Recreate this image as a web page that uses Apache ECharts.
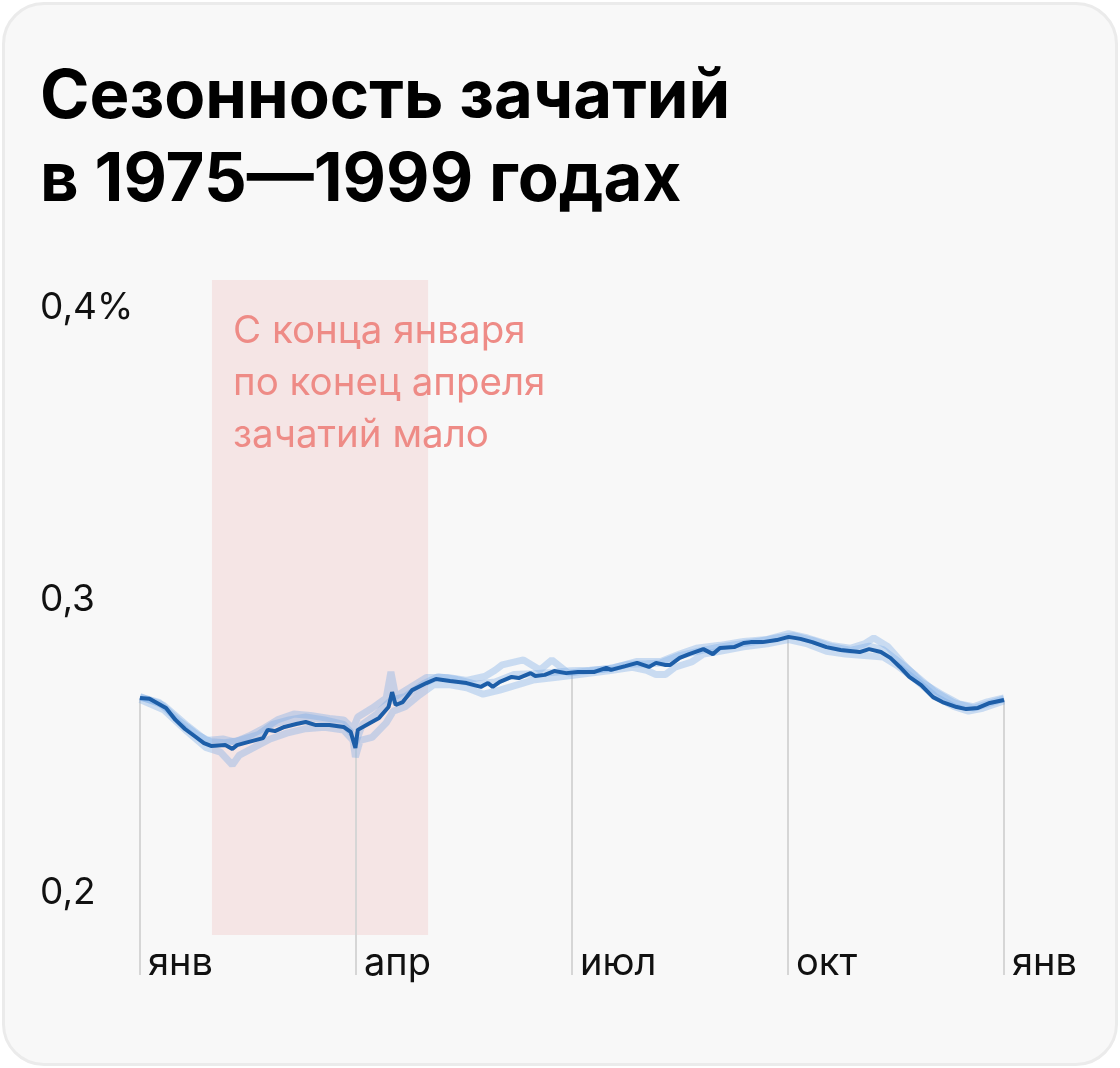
<!DOCTYPE html>
<html>
<head>
<meta charset="utf-8">
<script src="https://cdn.jsdelivr.net/npm/echarts@6/dist/echarts.min.js"></script>
<style>
html,body{margin:0;padding:0;background:#ffffff;}
#card{position:absolute;left:2px;top:2px;width:1110px;height:1058px;border:3px solid #ebebeb;border-radius:42px;background:#f8f8f8;}
#chart{position:absolute;left:0;top:0;width:1120px;height:1068px;}
</style>
</head>
<body>
<div id="card"></div>
<div id="chart"></div>
<script>
// Day of year (0..365) and share of conceptions per day, %
const mainDays = [0,4,11,15,19,23,27,30,36,39,41,46,52,54,57,61,66,70,74,80,86,89,91,92,97,101,105,106.5,108,111,115,121,125,131,138,144,147,149,152,157,160,165,167,171,175,180,185,192,197,199,205,210,215,218,222,224,228,232,238,242,245,251,255,258,263,269,274,279,284,290,296,304,308,313,317,321,325,330,335,339,345,349,354,359,365];
const mainVals = [0.2665,0.2662,0.2631,0.2590,0.2559,0.2535,0.2511,0.2501,0.2504,0.2491,0.2504,0.2515,0.2528,0.2556,0.2552,0.2566,0.2576,0.2583,0.2573,0.2573,0.2566,0.2549,0.2494,0.2556,0.2579,0.2597,0.2634,0.2685,0.2641,0.2651,0.2692,0.2716,0.2730,0.2723,0.2716,0.2703,0.2716,0.2703,0.2720,0.2737,0.2733,0.2750,0.2740,0.2744,0.2757,0.2750,0.2754,0.2754,0.2768,0.2761,0.2774,0.2785,0.2771,0.2785,0.2778,0.2778,0.2802,0.2815,0.2832,0.2815,0.2836,0.2839,0.2853,0.2856,0.2856,0.2863,0.2874,0.2867,0.2856,0.2839,0.2829,0.2822,0.2832,0.2822,0.2802,0.2771,0.2737,0.2709,0.2668,0.2651,0.2634,0.2627,0.2631,0.2648,0.2658];

const altADays = [0,10,20,28,35,40,46,52,58,65,72,80,86,90,92,98,104,106,108,114,121,130,138,146,150,153,162,169,174,181,190,200,210,220,228,235,245,255,265,274,282,292,300,306,310,316,322,330,338,346,352,358,365];
const altAVals = [0.2670,0.2640,0.2570,0.2520,0.2525,0.2515,0.2535,0.2560,0.2590,0.2610,0.2605,0.2595,0.2590,0.2560,0.2600,0.2630,0.2665,0.2754,0.2670,0.2700,0.2735,0.2735,0.2725,0.2740,0.2760,0.2778,0.2795,0.2761,0.2795,0.2750,0.2758,0.2768,0.2790,0.2790,0.2815,0.2835,0.2845,0.2858,0.2865,0.2885,0.2870,0.2845,0.2835,0.2850,0.2870,0.2840,0.2785,0.2720,0.2680,0.2645,0.2635,0.2652,0.2665];

const altBDays = [0,10,20,28,34,39,42,48,55,62,70,78,86,90,91,93,98,104,107,112,118,124,131,138,145,152,159,166,177,188,198,208,214,218,222,226,233,238,245,255,265,274,282,290,298,306,314,320,328,336,344,350,356,365];
const altBVals = [0.2660,0.2625,0.2550,0.2495,0.2480,0.2436,0.2470,0.2495,0.2525,0.2545,0.2560,0.2565,0.2555,0.2520,0.2463,0.2520,0.2530,0.2580,0.2620,0.2635,0.2675,0.2710,0.2710,0.2700,0.2678,0.2692,0.2709,0.2726,0.2737,0.2748,0.2758,0.2770,0.2760,0.2745,0.2745,0.2770,0.2788,0.2815,0.2825,0.2840,0.2850,0.2865,0.2850,0.2825,0.2815,0.2810,0.2805,0.2775,0.2725,0.2670,0.2635,0.2620,0.2630,0.2655];

const altCDays = [0,8,16,24,30,36,42,50,56,63,70,78,86,90,91,94,100,105,107,112,120,126,134,142,150,158,166,174,182,190,198,206,214,220,228,236,244,252,262,270,276,284,292,300,308,314,320,328,336,344,352,358,365];
const altCVals = [0.2668,0.2650,0.2590,0.2540,0.2515,0.2512,0.2520,0.2540,0.2575,0.2590,0.2600,0.2590,0.2575,0.2540,0.2510,0.2575,0.2610,0.2650,0.2660,0.2670,0.2715,0.2738,0.2728,0.2712,0.2720,0.2745,0.2748,0.2752,0.2758,0.2760,0.2765,0.2780,0.2782,0.2785,0.2810,0.2825,0.2838,0.2848,0.2860,0.2872,0.2878,0.2862,0.2840,0.2828,0.2842,0.2830,0.2792,0.2740,0.2685,0.2648,0.2630,0.2645,0.2662];

const quarterDays = [0,91.25,182.5,273.75,365];
const quarterTops = [0.2665,0.2494,0.2752,0.2874,0.2658];
const monthLabels = ['янв','апр','июл','окт','янв'];
const yTicks = [0.2,0.3,0.4];
const yTickLabels = ['0,2','0,3','0,4%'];
const lowPeriod = [30.4,121.7];
const noteLines = ['С конца января','по конец апреля','зачатий мало'];
const titleLines = ['Сезонность зачатий','в 1975—1999 годах'];

const zip = (d, v) => d.map((x, i) => [x, v[i]]);
const FONT = 'Inter, "Noto Sans", sans-serif';

const chart = echarts.init(document.getElementById('chart'), null, {renderer:'canvas'});

const altStyle = {width:7, color:'rgba(120,170,230,0.36)'};
function altSeries(d, v){
  return {type:'line', data:zip(d,v), symbol:'none', lineStyle:altStyle, z:3, silent:true};
}

chart.setOption({
  backgroundColor:'transparent',
  animation:false,
  graphic:[
    {type:'text', left:40, top:56, style:{text:titleLines.join('\n'), font:'bold 67px '+FONT, fill:'#000', lineHeight:83}},
    {type:'text', left:233, top:305, z:10, style:{text:noteLines.join('\n'), font:'38.5px '+FONT, fill:'#ee8b86', lineHeight:52}}
  ],
  grid:{left:140, right:116, top:280, bottom:93, containLabel:false},
  xAxis:{
    type:'value', min:0, max:365, interval:91.25,
    axisLine:{show:false}, axisTick:{show:false}, splitLine:{show:false},
    axisLabel:{
      inside:true, margin:-8, align:'left', padding:[0,0,0,8],
      color:'#111', fontSize:38, fontFamily:FONT,
      showMinLabel:true, showMaxLabel:true,
      formatter:(v)=>monthLabels[Math.round(v/91.25)]
    }
  },
  yAxis:{
    type:'value', min:0.3-375/2925, max:0.3+320/2925,
    axisLine:{show:false}, axisTick:{show:false}, splitLine:{show:false},
    axisLabel:{
      customValues:yTicks, align:'left', margin:100,
      color:'#111', fontSize:37, fontFamily:FONT,
      formatter:(v)=>{const i=yTicks.findIndex(t=>Math.abs(t-v)<1e-6); return i>=0?yTickLabels[i]:'';}
    }
  },
  series:[
    {
      type:'custom', z:2, silent:true,
      data:zip(quarterDays, quarterTops),
      renderItem:(params, api)=>{
        const p = api.coord([api.value(0), api.value(1)]);
        const bottom = params.coordSys.y + params.coordSys.height;
        return {type:'line', shape:{x1:p[0], y1:p[1], x2:p[0], y2:bottom}, style:{stroke:'#d6d6d6', lineWidth:2}};
      },
      markArea:{
        silent:true,
        itemStyle:{color:'#f5e5e5'},
        data:[[{xAxis:lowPeriod[0], yAxis:0.3-335/2925},{xAxis:lowPeriod[1], yAxis:0.3+320/2925}]]
      }
    },
    altSeries(altADays, altAVals),
    altSeries(altBDays, altBVals),
    altSeries(altCDays, altCVals),
    {type:'line', data:zip(mainDays, mainVals), symbol:'none', z:5, silent:true,
     lineStyle:{width:4, color:'#1d5ea8'}}
  ]
});
</script>
</body>
</html>
